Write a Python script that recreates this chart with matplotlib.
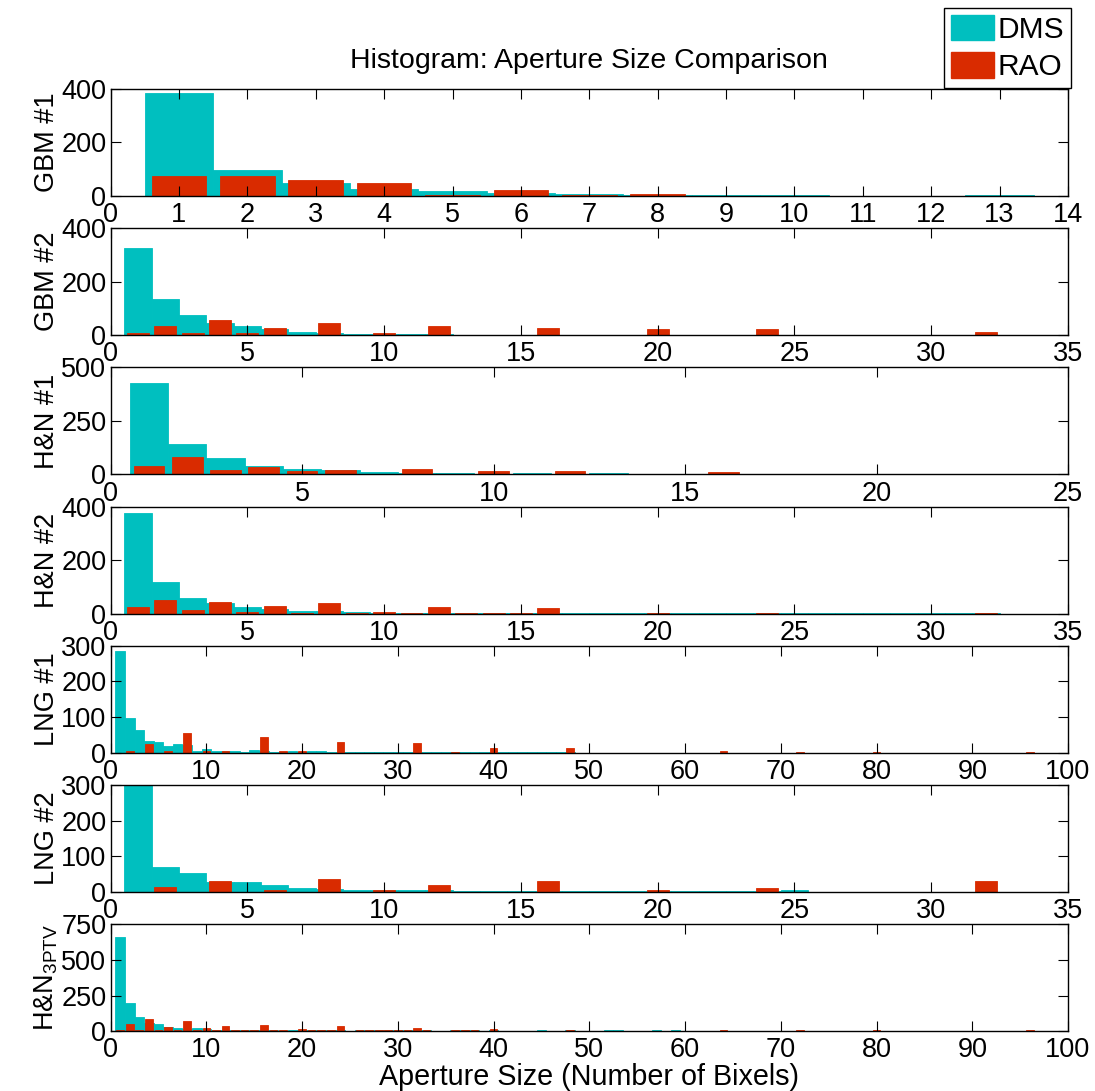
import matplotlib
matplotlib.use("Agg")
import matplotlib.pyplot as plt
import numpy as np
from matplotlib.patches import Patch

plt.rcParams['font.family'] = ['Liberation Sans', 'DejaVu Sans']
plt.rcParams['mathtext.fontset'] = 'custom'
plt.rcParams['mathtext.rm'] = 'Liberation Sans'

DMS_COLOR = '#00bfbf'
RAO_COLOR = '#d92b00'

# counts per integer bin (bin 1, 2, 3, ...)
gbm1_dms = [384, 99, 50, 26, 17, 13, 8, 5, 3, 3, 1, 1, 3]
gbm1_rao = [73, 73, 58, 49, 5, 24, 2, 8, 0, 0, 0, 0, 0]

gbm2_dms = [326, 135, 77, 45, 36, 22, 13, 8, 5, 4, 3, 3, 2, 2, 2, 2,
            2, 1, 1, 1, 1, 1, 1, 1, 1, 1, 1, 1, 1, 0, 1, 1]
gbm2_rao = [8, 33, 8, 58, 8, 28, 2, 45, 1, 8, 1, 36, 0, 0, 0, 26,
            0, 0, 0, 22, 0, 0, 0, 22, 0, 0, 0, 0, 0, 0, 0, 12]

hn1_dms = [429, 142, 76, 40, 25, 21, 11, 8, 5, 4, 5, 4, 5, 3, 2, 2,
           2, 1, 1, 1, 1, 1, 1, 1]
hn1_rao = [40, 81, 21, 35, 14, 21, 3, 25, 3, 14, 3, 16, 3, 1, 1, 10,
           0, 1, 0, 4, 0, 4, 0, 2]

hn2_dms = [376, 118, 58, 39, 23, 18, 11, 8, 6, 4, 3, 3, 3, 2, 2, 2,
           2, 1, 1, 1, 1, 1, 1, 1, 1, 1, 1, 1, 1, 1, 1, 1]
hn2_rao = [23, 50, 15, 43, 6, 27, 1, 39, 1, 6, 1, 23, 1, 1, 1, 20,
           0, 0, 0, 4, 0, 0, 0, 4, 0, 0, 0, 0, 0, 0, 0, 3]

lng1_dms = [285, 98, 65, 34, 31, 18, 26, 22, 5, 12, 6, 6, 5, 3, 8, 4,
            3, 3, 4, 3, 4, 4, 3, 3, 3, 3, 3, 3, 2, 3, 3, 2,
            1, 1, 1, 2, 1, 3, 3, 2, 1, 1, 2, 1, 2, 3, 1, 1,
            0, 0, 0, 0, 0, 0, 0, 0, 0, 0, 0, 0, 0, 0, 0, 0,
            0, 0, 0, 0, 0, 0, 0, 0, 0, 0, 0, 0, 0, 0, 0, 0,
            0, 0, 0, 0, 0, 0, 0, 0, 0, 0, 0, 0, 0, 0, 0, 0]
lng1_rao = [0, 5, 0, 25, 0, 5, 0, 56, 0, 4, 0, 5, 0, 0, 0, 43,
            0, 4, 0, 5, 0, 0, 0, 31, 0, 0, 0, 0, 0, 0, 0, 28,
            0, 0, 0, 3, 0, 0, 0, 13, 0, 0, 0, 0, 0, 0, 0, 13,
            0, 0, 0, 0, 0, 0, 0, 0, 0, 0, 0, 0, 0, 0, 0, 5,
            0, 0, 0, 0, 0, 0, 0, 2, 0, 0, 0, 0, 0, 0, 0, 2,
            0, 0, 0, 0, 0, 0, 0, 0, 0, 0, 0, 0, 0, 0, 0, 2]

lng2_dms = [330, 71, 54, 28, 28, 19, 10, 8, 7, 7, 7, 5, 4, 4, 4, 3,
            2, 4, 4, 2, 2, 2, 2, 3, 5, 1, 1, 1, 1, 1, 1, 1]
lng2_rao = [1, 13, 1, 31, 1, 5, 1, 37, 1, 5, 1, 19, 1, 1, 1, 31,
            1, 0, 1, 5, 0, 0, 0, 12, 0, 0, 0, 0, 0, 0, 0, 30]

hn3_dms = [658, 195, 103, 60, 49, 30, 20, 15, 20, 12, 10, 6, 8, 8, 8, 5,
           6, 4, 6, 7, 8, 8, 8, 5, 3, 8, 8, 8, 8, 8, 8, 8,
           8, 4, 3, 8, 8, 8, 4, 5, 3, 3, 3, 3, 8, 3, 3, 5,
           3, 3, 3, 8, 8, 3, 3, 3, 8, 3, 8, 3, 0, 0, 0, 0,
           0, 0, 0, 0, 0, 0, 0, 0, 0, 0, 0, 0, 0, 0, 0, 0,
           0, 0, 0, 0, 0, 0, 0, 0, 0, 0, 0, 0, 0, 0, 0, 0]
hn3_rao = [10, 49, 10, 85, 10, 30, 5, 68, 10, 20, 5, 33, 5, 5, 5, 41,
           5, 8, 3, 14, 5, 5, 5, 33, 3, 5, 5, 5, 5, 5, 5, 22,
           5, 3, 3, 8, 5, 5, 3, 13, 3, 3, 3, 3, 3, 3, 3, 8,
           0, 0, 0, 0, 0, 0, 0, 3, 0, 0, 0, 0, 0, 0, 0, 6,
           0, 0, 0, 0, 0, 0, 0, 6, 0, 0, 0, 0, 0, 0, 0, 6,
           0, 0, 0, 0, 0, 0, 0, 0, 0, 0, 0, 0, 0, 0, 0, 5]

panel_labels = ['GBM #1', 'GBM #2', 'H&N #1', 'H&N #2', 'LNG #1', 'LNG #2',
                'H&N$_{\\rm 3PTV}$']
panel_dms = [gbm1_dms, gbm2_dms, hn1_dms, hn2_dms, lng1_dms, lng2_dms, hn3_dms]
panel_rao = [gbm1_rao, gbm2_rao, hn1_rao, hn2_rao, lng1_rao, lng2_rao, hn3_rao]
panel_xmax = [14, 35, 25, 35, 100, 35, 100]
panel_xstep = [1, 5, 5, 5, 10, 5, 10]
panel_ymax = [400, 400, 500, 400, 300, 300, 750]
panel_ystep = [200, 200, 250, 200, 100, 100, 250]

W, H = 1095, 1091
fig = plt.figure(figsize=(W / 100, H / 100), dpi=100)

left_px, width_px = 110.6, 957.4
top0, step, height_px = 89, 139.2, 107

axes = []
for k in range(7):
    top = top0 + step * k
    ax = fig.add_axes([left_px / W, 1 - (top + height_px) / H, width_px / W, height_px / H])
    dms = np.array(panel_dms[k])
    rao = np.array(panel_rao[k])
    x = np.arange(1, len(dms) + 1)
    ax.bar(x, dms, width=1.0, color=DMS_COLOR, edgecolor=DMS_COLOR, linewidth=0.6)
    ax.bar(x, rao, width=0.8, color=RAO_COLOR, edgecolor=RAO_COLOR, linewidth=0.6)
    ax.set_xlim(0, panel_xmax[k])
    ax.set_ylim(0, panel_ymax[k])
    ax.set_xticks(np.arange(0, panel_xmax[k] + 1, panel_xstep[k]))
    ax.set_yticks(np.arange(0, panel_ymax[k] + 1, panel_ystep[k]))
    ax.tick_params(direction='in', top=True, right=True, length=7, width=0.8,
                   labelsize=19.5, pad=3)
    ax.tick_params(axis='x', pad=4.5)
    for sp in ax.spines.values():
        sp.set_linewidth(1.0)
    ax.set_ylabel(panel_labels[k], fontsize=19.5, labelpad=1)
    axes.append(ax)

axes[0].set_title('Histogram: Aperture Size Comparison', fontsize=20.5, pad=15)
axes[-1].set_xlabel('Aperture Size (Number of Bixels)', fontsize=20.7, labelpad=-0.5)

handles = [Patch(facecolor=DMS_COLOR, edgecolor=DMS_COLOR),
           Patch(facecolor=RAO_COLOR, edgecolor=RAO_COLOR)]
leg = fig.legend(handles, ['DMS', 'RAO'], loc='upper right',
                 bbox_to_anchor=(1071 / W, 1 - 8 / H), fontsize=21.5,
                 frameon=True, fancybox=False, framealpha=1, edgecolor='black',
                 handlelength=1.45, handleheight=0.95, borderpad=0.22,
                 labelspacing=0.28, handletextpad=0.12, borderaxespad=0)
leg.get_frame().set_linewidth(1.0)

fig.savefig('out.png', dpi=100)
